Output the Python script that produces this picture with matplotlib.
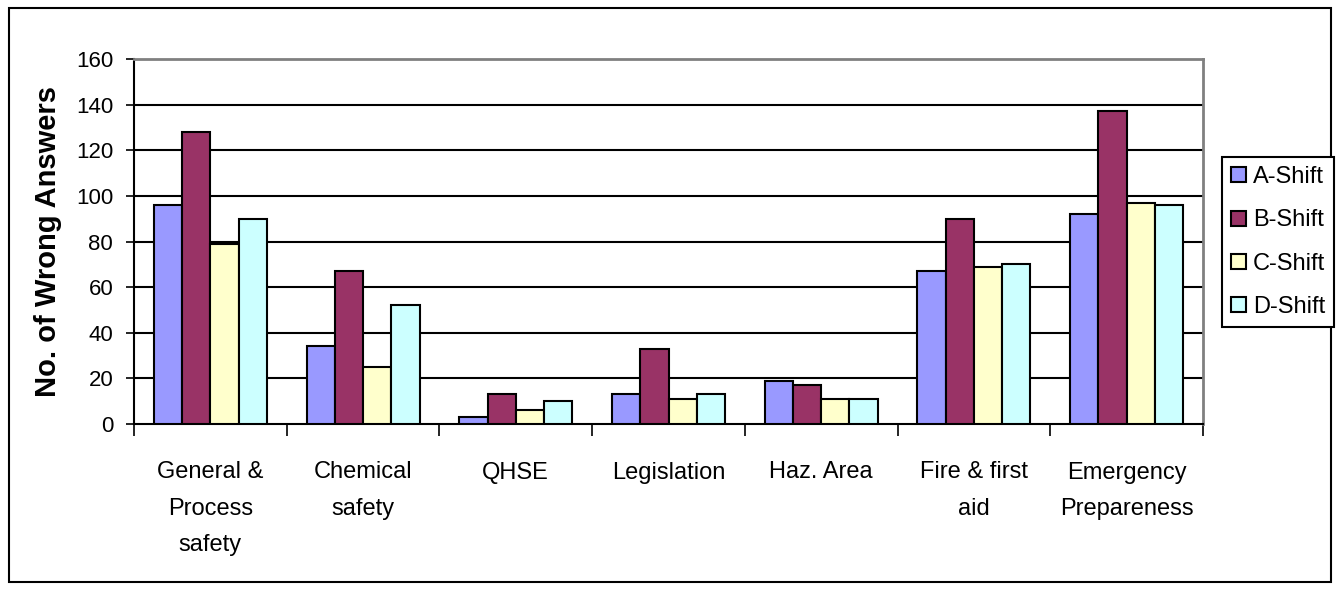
import numpy as np
import matplotlib
matplotlib.use("Agg")
from matplotlib import pyplot as plt
from matplotlib.patches import Rectangle

plt.rcParams['font.family'] = ['Liberation Sans', 'DejaVu Sans']

# categories and values
categories = ["General &\nProcess\nsafety", "Chemical\nsafety", "QHSE", "Legislation",
              "Haz. Area", "Fire & first\naid", "Emergency\nPrepareness"]
series_names = ["A-Shift", "B-Shift", "C-Shift", "D-Shift"]
a_shift = [96, 34, 3, 13, 19, 67, 92]
b_shift = [128, 67, 13, 33, 17, 90, 137]
c_shift = [79, 25, 6, 11, 11, 69, 97]
d_shift = [90, 52, 10, 13, 11, 70, 96]
colors = ["#9999FF", "#993366", "#FFFFCC", "#CCFFFF"]

W, H = 1339, 590
fig = plt.figure(figsize=(W / 100, H / 100), dpi=100)

# outer frame
fig.patches.append(Rectangle((9 / W, 8 / H), (1331 - 9) / W, (582 - 8) / H,
                             transform=fig.transFigure, fill=False,
                             edgecolor="black", linewidth=1.5))

ax = fig.add_axes([134 / W, (H - 424) / H, (1203 - 134) / W, (424 - 59) / H])

x = np.arange(len(categories))
bw = 0.185
data = [a_shift, b_shift, c_shift, d_shift]
for i, vals in enumerate(data):
    ax.bar(x + (i - 1.5) * bw, vals, width=bw, color=colors[i], edgecolor="black",
           linewidth=1.5, label=series_names[i], zorder=3)

ax.set_xlim(-0.5, len(categories) - 0.5)
ax.set_ylim(0, 160)
ax.set_yticks(np.arange(0, 161, 20))
for yv in range(20, 160, 20):
    ax.axhline(yv, color="black", linewidth=1.5, zorder=1)

# x ticks at boundaries, labels at centres
ax.set_xticks(np.arange(-0.5, len(categories), 1.0))
ax.set_xticklabels([])
ax.set_xticks(x, minor=True)
ax.set_xticklabels(categories, minor=True, fontsize=17, linespacing=1.85)
ax.tick_params(axis="x", which="major", direction="out", length=8.5, width=1.2)
ax.tick_params(axis="x", which="minor", length=0, pad=27)
ax.tick_params(axis="y", direction="out", length=6, width=1.2, labelsize=16, pad=9)

for s in ["left", "bottom"]:
    ax.spines[s].set_color("black")
    ax.spines[s].set_linewidth(1.5)
for s in ["top", "right"]:
    ax.spines[s].set_color("#808080")
    ax.spines[s].set_linewidth(2)

ax.set_ylabel("No. of Wrong Answers", fontsize=21, fontweight="bold")
ax.yaxis.set_label_coords((62 - 134) / 1069, 0.5)

leg = fig.legend(loc="center left", bbox_to_anchor=(1222 / W, 1 - 242 / H),
                 fontsize=17, fancybox=False, edgecolor="black", framealpha=1,
                 handlelength=0.6, handleheight=0.6, handletextpad=0.3,
                 labelspacing=0.9, borderpad=0.4, borderaxespad=0)
leg.get_frame().set_linewidth(1.5)

fig.savefig("out.png", dpi=100)
